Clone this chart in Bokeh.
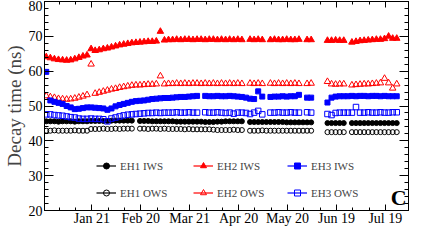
import pandas as pd
from bokeh.plotting import figure
from bokeh.models import (Range1d, FixedTicker, SingleIntervalTicker, LinearAxis,
                          Legend, LegendItem, Label, ColumnDataSource)
from bokeh.embed import file_html
from bokeh.resources import INLINE

nan = float("nan")

# one point every 2.5 days, 24 Dec 2011 .. 28 Jul 2012
dates = pd.date_range("2011-12-24", periods=87, freq="60h")

eh1_iws = [45.6, 45.6, 45.6, 45.5, 45.6, 45.6, 45.6, 45.5, 45.6, 45.6, 45.6,
           45.7, 45.7, 45.7, 45.7, 45.7, 45.8, 45.8, 45.8, 45.8, 45.8,
           45.8, nan, 45.7, 45.7, 45.7, 45.6, 45.6, 45.6, 45.6, 45.6,
           45.6, 45.5, 45.5, 45.5, 45.5, 45.5, 45.5, 45.5, 45.4, 45.4,
           45.4, 45.5, 45.5, 45.6, 45.6, 45.6, 45.6, 45.6, nan, 45.4,
           45.4, 45.4, 45.4, 45.4, 45.4, 45.4, 45.4, 45.4, 45.3, 45.3,
           45.3, 45.3, 45.3, 45.3, 45.3, nan, nan, nan, 45.1, 45.1,
           45.1, 45.1, 45.1, nan, 45.1, 45.1, 45.1, 45.1, 45.1, 45.1,
           45.1, 45.1, 45.1, 45.1, 45.1, 45.1]

eh1_ows = [42.9, 42.9, 43.0, 42.9, 42.9, 42.9, 42.9, 43.0, 42.9, 42.9, 42.9,
           43.4, 43.4, 43.4, 43.5, 43.4, 43.4, 43.5, 43.4, 43.5, 43.5,
           43.5, nan, 43.5, 43.5, 43.4, 43.5, 43.5, 43.4, 43.5, 43.4,
           43.4, 43.4, 43.4, 43.3, 43.4, 43.3, 43.3, 43.3, 43.3, 43.3,
           43.2, 43.1, 43.1, 43.1, 43.1, 43.2, 43.1, 43.1, nan, 42.9,
           42.9, 42.9, 43.0, 42.9, 42.9, 42.9, 42.9, 42.9, 42.9, 42.9,
           42.9, 42.9, 42.9, 42.9, 42.9, nan, nan, nan, 42.5, 42.5,
           42.5, 42.5, 42.5, nan, 42.5, 42.5, 42.5, 42.5, 42.5, 42.5,
           42.5, 42.5, 42.5, 42.5, 42.5, 42.5]

eh2_iws = [64.1, 63.8, 63.5, 63.3, 63.2, 63.1, 63.2, 63.5, 63.9, 64.3, 64.6,
           66.4, 65.9, 66.1, 66.4, 66.6, 66.9, 67.2, 67.5, 67.7, 67.9,
           68.1, 68.2, 68.3, 68.4, 68.5, 68.5, 68.6, 71.4, 68.9, 69.0,
           69.0, 69.1, 69.0, 69.1, 69.1, 69.0, 69.1, 69.1, 69.0, 69.1,
           69.1, 69.0, 69.1, 69.0, 69.1, 69.0, 69.1, 69.0, nan, 69.1,
           69.0, 69.1, 69.0, nan, 69.0, 69.1, 69.0, 69.0, 69.1, 69.0,
           69.0, 69.1, nan, 69.0, 69.0, nan, nan, nan, 68.8, 68.8,
           68.9, 68.8, 68.8, nan, 68.3, 68.5, 68.7, 68.8, 68.9, 69.0,
           69.1, 69.1, 69.3, 70.0, 69.4, 69.4]

eh2_ows = [52.9, 52.6, 52.4, 52.1, 52.0, 51.9, 52.0, 52.2, 52.5, 52.8, 53.2,
           62.0, 53.6, 53.9, 54.2, 54.5, 54.8, 55.0, 55.3, 55.5, 55.7,
           55.9, 56.0, 56.0, 56.1, 56.2, 56.2, 56.3, 58.6, 56.3, 56.4,
           56.4, 56.5, 56.4, 56.5, 56.4, 56.5, 56.5, 56.4, 56.5, 56.4,
           56.5, 56.4, 56.5, 56.4, 56.5, 56.4, 56.5, 56.4, nan, 56.5,
           56.4, 56.5, 56.4, nan, 56.5, 56.4, 56.5, 56.4, 56.5, 56.4,
           56.5, 56.4, nan, 56.4, 56.5, nan, nan, nan, 57.0, 56.3,
           56.2, 56.3, 56.3, nan, 56.0, 56.1, 56.2, 56.3, 56.3, 56.4,
           56.5, 56.6, 57.9, 56.6, 55.1, 56.3]

eh3_iws = [59.8, 51.6, 51.2, 50.9, 50.6, 50.0, 49.6, 49.1, 49.2, 49.4, 49.6,
           49.6, 49.5, 49.4, 49.3, 48.9, 49.3, 49.9, 50.3, 50.6, 50.9,
           51.2, 51.4, 51.5, 51.6, 51.8, 52.0, 52.1, 52.2, 52.3, 52.3,
           52.4, 52.5, 52.6, 52.6, 52.7, 52.8, 52.9, nan, 52.9, 52.8,
           52.8, 52.9, 52.8, 52.8, 52.9, 52.8, 52.7, 52.6, 52.4, 52.1,
           52.0, 54.2, 52.7, nan, 52.6, 52.7, 52.7, 52.8, 52.7, 52.8,
           52.8, 53.2, nan, 52.4, 52.4, nan, nan, nan, 51.0, 52.4,
           52.7, 52.8, 52.8, 52.8, 52.9, 52.8, 52.9, 52.9, 52.8, 52.9,
           52.9, 52.8, 52.9, 52.8, 52.8, 52.8]

eh3_ows = [47.6, 47.6, 47.4, 47.3, 47.2, 47.0, 46.8, 46.7, 46.4, 46.3, 46.3,
           46.4, 46.3, 46.3, 46.2, 45.6, 46.4, 46.7, 47.0, 47.3, 47.5,
           47.6, 47.7, 47.8, 47.9, 48.0, 48.0, 48.1, 48.0, 48.1, 48.1,
           48.1, 48.2, 48.1, 48.1, 48.2, 48.1, 48.1, nan, 48.2, 48.1,
           48.1, 48.2, 48.1, 48.0, 48.1, 47.8, 48.1, 48.1, 48.0, 47.7,
           48.1, 48.6, 47.6, nan, 48.1, 48.1, 48.2, 48.1, 48.1, 48.2,
           48.1, 48.1, nan, 48.2, 48.1, nan, nan, nan, 47.7, 47.4,
           48.0, 48.1, 48.1, 48.1, 48.1, 49.7, 48.1, 48.1, 48.2, 48.1,
           48.1, 48.2, 48.1, 48.1, 48.2, 48.2]

tick_dates = ["2012-01-21", "2012-02-20", "2012-03-21", "2012-04-20",
              "2012-05-20", "2012-06-19", "2012-07-19"]
tick_labels = ["Jan 21", "Feb 20", "Mar 21", "Apr 20", "May 20", "Jun 19", "Jul 19"]

FONT = "Liberation Serif"
RED = "#ff0000"
BLUE = "#0000ff"


def ms(d):
    return float(pd.Timestamp(d).value // 10**6)


xs = [ms(d) for d in dates]
major = [ms(d) for d in tick_dates]
minor = [ms(pd.Timestamp("2012-01-01") + pd.Timedelta(days=10 * k)) for k in range(21)]
x_ticker = FixedTicker(ticks=major, minor_ticks=minor)
y_ticker = SingleIntervalTicker(interval=10, num_minor_ticks=5)

p = figure(width=409, height=228,
           x_range=Range1d(ms("2011-12-22 22:00"), ms("2012-08-02 05:00")),
           y_range=Range1d(20, 80), output_backend="svg", toolbar_location=None,
           min_border_left=0, min_border_right=1, min_border_top=1, min_border_bottom=0)
p.title.visible = False
p.grid.visible = False
p.outline_line_color = "black"
p.outline_line_width = 1
p.background_fill_color = "white"
p.border_fill_color = "white"


def style_axis(ax, is_x, show_labels):
    ax.ticker = x_ticker if is_x else y_ticker
    ax.axis_line_color = "black"
    ax.major_tick_line_color = "black"
    ax.minor_tick_line_color = "black"
    ax.major_tick_out = 0
    ax.minor_tick_out = 0
    ax.major_tick_in = 6 if is_x else 9
    ax.minor_tick_in = 3 if is_x else 4
    ax.axis_label = None
    if show_labels:
        ax.major_label_text_font = FONT
        ax.major_label_text_font_size = "14px"
        ax.major_label_text_color = "black"
        ax.major_label_standoff = 0 if is_x else 2
    else:
        ax.major_label_text_font_size = "1px"
        ax.major_label_text_color = None
        ax.major_label_standoff = 0


xb = p.xaxis[0]
style_axis(xb, True, True)
xb.major_label_overrides = {m: lab for m, lab in zip(major, tick_labels)}

yl = p.yaxis[0]
style_axis(yl, False, True)
yl.axis_label = "Decay time (ns)"
yl.axis_label_text_font = FONT
yl.axis_label_text_font_size = "19px"
yl.axis_label_text_font_style = "normal"
yl.axis_label_standoff = 1

xt = LinearAxis()
style_axis(xt, True, False)
p.add_layout(xt, "above")
yr = LinearAxis()
style_axis(yr, False, False)
p.add_layout(yr, "right")

series = [
    ("EH1 IWS", eh1_iws, "circle", "black", True, 5),
    ("EH1 OWS", eh1_ows, "circle", "black", False, 5),
    ("EH2 IWS", eh2_iws, "triangle", RED, True, 6.5),
    ("EH2 OWS", eh2_ows, "triangle", RED, False, 6.5),
    ("EH3 IWS", eh3_iws, "square", BLUE, True, 5),
    ("EH3 OWS", eh3_ows, "square", BLUE, False, 5.5),
]

items = []
for label, vals, marker, color, filled, size in series:
    src = ColumnDataSource(data=dict(x=xs, y=vals))
    r = p.scatter("x", "y", source=src, marker=marker, size=size,
                  line_color=color, fill_color=color if filled else None,
                  line_width=1)
    lr = p.line(x=xs[:2], y=[nan, nan], line_color=color, line_width=1.2)
    items.append(LegendItem(label=label, renderers=[lr, r]))

# one legend column per hall
for col, vx in enumerate([52, 149, 243]):
    leg = Legend(items=items[2 * col:2 * col + 2], location=(vx, 10), orientation="vertical",
                 label_text_font=FONT, label_text_font_size="11px",
                 glyph_width=20, glyph_height=15, label_height=15, label_standoff=4,
                 spacing=12, padding=0, margin=0,
                 background_fill_alpha=0, border_line_alpha=0)
    p.add_layout(leg)

p.add_layout(Label(x=ms("2012-08-01"), y=20.1, text="C", text_align="right",
                   text_baseline="bottom", text_font=FONT, text_font_size="22px",
                   text_font_style="bold", text_color="black"))

open("out.html", "w").write(file_html(p, INLINE))
